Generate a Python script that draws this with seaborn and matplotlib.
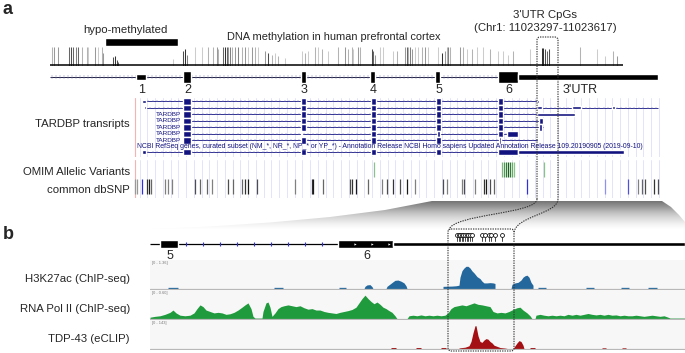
import numpy as np
import matplotlib
matplotlib.use("Agg")
import matplotlib.pyplot as plt
import seaborn as sns
from matplotlib.patches import FancyBboxPatch, PathPatch, Polygon
from matplotlib.path import Path
from matplotlib.ticker import MultipleLocator

# ===================== DATA =====================
# ---- panel a : DNA methylation (CpG position, methylation level, coverage shade)
meth_pos = [52, 54, 58, 69, 71, 73, 76, 78, 82, 87, 88, 95, 98, 102, 103, 113, 115, 117, 118,
            173, 183, 185, 187, 195, 202, 208, 213, 217, 218, 223, 225, 227, 228, 230, 232, 235,
            238, 242, 245, 248, 252, 255, 258, 265, 268, 272, 275, 278, 285, 302, 305, 308, 315,
            318, 322, 328, 338, 345, 348, 352, 353, 358, 360, 372, 373, 375, 380, 383, 393, 397,
            405, 407, 408, 410, 412, 415, 418, 422, 425, 428, 438, 442, 445, 447, 448, 450, 460,
            463, 467, 472, 477, 483, 490, 498, 503, 508, 513, 530, 542, 543, 545, 547, 549, 580,
            597, 605, 613, 617]
meth_level = [1, 1, 1, 1, 1, 1, 1, 1, 1, 1, 1, 1, 1, 1, 0.7, 0.45, 0.5, 0.3, 0.2,
              0.35, 0.8, 0.9, 0.6, 1, 1, 1, 1, 1, 0.9, 1, 1, 1, 1, 1, 1, 1,
              1, 1, 1, 1, 1, 1, 1, 0.8, 0.7, 0.6, 0.7, 0.5, 0.4, 0.8, 0.7, 0.8, 1,
              1, 0.9, 0.8, 1, 1, 0.9, 1, 0.9, 1, 1, 0.9, 0.8, 0.6, 1, 1, 0.8, 0.8,
              1, 1, 1, 1, 0.9, 1, 1, 1, 1, 1, 1, 0.7, 0.8, 1, 1, 1, 1,
              1, 0.9, 0.9, 1, 1, 0.9, 0.8, 0.8, 0.6, 0.8, 0.9, 0.95, 0.95, 0.9, 0.8, 0.9, 1,
              0.9, 0.5, 0.8, 0.5]
meth_shade = [0.6, 0.5, 0.5, 0.3, 0.2, 0.3, 0.4, 0.3, 0.6, 0.6, 0.7, 0.5, 0.7, 0.6, 0.5, 0.2, 0.1, 0.2, 0.3,
              0.7, 0.2, 0.1, 0.4, 0.7, 0.7, 0.6, 0.6, 0.5, 0.6, 0.3, 0.1, 0.3, 0.5, 0.4, 0.6, 0.5,
              0.4, 0.6, 0.5, 0.7, 0.5, 0.6, 0.7, 0.5, 0.2, 0.6, 0.7, 0.6, 0.7, 0.7, 0.6, 0.7, 0.6,
              0.7, 0.6, 0.7, 0.6, 0.5, 0.6, 0.6, 0.7, 0.5, 0.6, 0.2, 0.3, 0.5, 0.7, 0.7, 0.7, 0.6,
              0.5, 0.3, 0.6, 0.4, 0.5, 0.7, 0.7, 0.6, 0.5, 0.7, 0.7, 0.1, 0.5, 0.6, 0.4, 0.6, 0.5,
              0.6, 0.7, 0.6, 0.7, 0.7, 0.6, 0.7, 0.7, 0.7, 0.6, 0.7, 0.1, 0.1, 0.2, 0.3, 0.2, 0.6,
              0.7, 0.7, 0.6, 0.5]
meth_span = (50, 623)
hypo_region = (105, 178)
cpg_box = (537, 558)

# ---- panel a : gene model
gene_span = (50, 658)
exon_start = [136, 183, 301, 370, 435, 498]
exon_end = [146, 191, 306, 375, 440, 518]
exon_coding = [False, True, True, True, True, True]
exon_labels = ["1", "2", "3", "4", "5", "6"]
utr_region = (518, 658)

# ---- panel a : RefSeq transcripts (row, span, blocks (start, end, coding?))
tx_rows = [0, 1, 2, 3, 4, 5, 6, 7.8]
tx_spans = [(142, 539), (144, 658), (183, 575), (183, 543), (183, 543), (183, 518), (183, 539), (142, 624)]
tx_blocks = [
    [(142, 146, 0), (183, 191, 1), (301, 306, 1), (371, 376, 1), (436, 441, 1), (498, 503, 1), (537, 539, 0)],
    [(144, 146, 0), (183, 191, 1), (301, 306, 1), (371, 376, 1), (436, 441, 1), (498, 503, 1), (537, 542, 0),
     (572, 581, 0), (612, 615, 0)],
    [(183, 191, 1), (301, 306, 1), (371, 376, 1), (436, 441, 1), (498, 503, 1), (537, 575, 0)],
    [(183, 191, 1), (301, 306, 1), (371, 376, 1), (436, 441, 1), (498, 503, 1), (539, 543, 1)],
    [(183, 191, 1), (301, 306, 1), (371, 376, 1), (436, 441, 1), (498, 503, 1), (539, 542, 1)],
    [(183, 191, 1), (301, 302, 1), (371, 376, 1), (437, 440, 1), (498, 503, 1), (507, 518, 1)],
    [(183, 191, 1), (301, 306, 1), (371, 376, 1), (436, 441, 1), (499, 501, 1), (538, 539, 0)],
    [(142, 146, 0), (183, 191, 1), (301, 306, 1), (371, 376, 1), (436, 441, 1), (498, 518, 1), (518, 624, 0)],
]
tx_named_rows = [2, 3, 4, 5, 6]
tx_name = "TARDBP"
refseq_note = ("NCBI RefSeq genes, curated subset (NM_*, NR_*, NP_* or YP_*) - Annotation Release "
               "NCBI Homo sapiens Updated Annotation Release 109.20190905 (2019-09-10)")

# ---- panel a : variants
omim_pos = [374, 502, 504, 506, 508, 510, 512, 514, 544]
omim_color = ["#8cc08c", "#7cb87c", "#4e9a52", "#2e7d32", "#1b5e20", "#2e7d32", "#6aa86a", "#8cc08c", "#8cc08c"]
snp_pos = [135, 137, 147, 149, 151, 165, 168, 172, 195, 200, 207, 212, 228, 233, 242, 245, 248, 257,
           295, 312, 313, 323, 350, 352, 356, 368, 382, 387, 393, 400, 407, 415, 443, 447, 462, 464,
           475, 484, 486, 490, 494, 638, 642, 645, 654, 658]
snp_shade = [0.6, 0.6, 0.2, 0.1, 0.4, 0.5, 0.5, 0.5, 0.3, 0.4, 0.4, 0.5, 0.3, 0.4, 0.4, 0.2, 0.1, 0.3,
             0.5, 0.2, 0.1, 0.4, 0.3, 0.2, 0.1, 0.4, 0.5, 0.3, 0.2, 0.3, 0.1, 0.5, 0.3, 0.5, 0.5, 0.3,
             0.5, 0.2, 0.1, 0.3, 0.4, 0.5, 0.4, 0.3, 0.2, 0.3]
snp_blue_pos = [142, 527, 605, 628]
snp_blue_color = ["#3030e0", "#3030e0", "#9090f0", "#5050e0"]

# ---- panel b : zoomed gene model
b_span = (150, 685)
b_exon_start = [160, 338]
b_exon_end = [178, 393]
b_exon_labels = ["5", "6"]
b_utr = (393, 685)
b_cpg_pos = [457, 458.5, 460, 461.5, 463, 465, 466.5, 468, 470, 472, 482, 485, 489, 491, 495, 502]
b_window = (448, 514)

# ---- panel b : signal tracks (normalised to each track's data range)
h3_x = [150, 168, 168, 178, 178, 274, 274, 283, 283, 339, 339, 346, 346, 364, 365, 367, 370, 372, 373,
        386, 387, 390, 393, 395, 398, 401, 404, 406, 407, 443, 443, 452, 456, 459, 460, 462, 464, 466,
        468, 470, 472, 474, 477, 480, 482, 484, 487, 490, 493, 495, 495, 511, 512, 515, 518, 521, 523,
        525, 527, 529, 531, 533, 533, 538, 538, 546, 546, 586, 586, 594, 594, 621, 621, 629, 629,
        648, 648, 657, 657, 685]
h3_y = [0, 0, .045, .045, 0, 0, .045, .045, 0, 0, .045, .045, 0, 0, .08, .13, .14, .07, 0,
        0, .08, .16, .24, .29, .3, .26, .2, .1, 0, 0, .08, .09, .1, .12, .4, .63, .72, .78,
        .78, .72, .62, .55, .42, .35, .26, .2, .2, .21, .2, .18, 0, 0, .15, .2, .22, .3, .4,
        .45, .47, .4, .22, .12, 0, 0, .045, .045, 0, 0, .045, .045, 0, 0, .045, .045, 0,
        0, .045, .045, 0, 0]
pol_x = [150, 155, 160, 165, 170, 173, 176, 180, 185, 190, 194, 197, 200, 203, 206, 210, 214, 218,
         222, 226, 230, 234, 238, 242, 245, 248, 251, 253, 255, 262, 263, 266, 268, 270, 272, 275,
         278, 281, 284, 288, 292, 296, 300, 304, 308, 312, 316, 320, 324, 328, 332, 336, 340, 344,
         348, 352, 356, 359, 362, 365, 368, 371, 374, 377, 380, 383, 386, 389, 392, 395, 397, 407,
         409, 413, 417, 421, 425, 429, 433, 437, 441, 445, 448, 451, 454, 458, 462, 466, 470, 474,
         478, 482, 486, 490, 493, 497, 501, 505, 509, 513, 517, 520, 523, 527, 530, 532, 535, 536,
         540, 544, 548, 552, 556, 560, 564, 568, 572, 576, 580, 584, 588, 592, 596, 600, 604, 608,
         612, 616, 620, 624, 628, 632, 636, 640, 644, 648, 652, 656, 660, 664, 668, 670, 685]
pol_y = [.05, .08, .1, .15, .22, .3, .2, .12, .1, .12, .2, .35, .48, .42, .3, .25, .2, .22,
         .2, .15, .17, .22, .3, .4, .48, .55, .35, .08, .02, .02, .25, .55, .58, .4, .08, .2,
         .35, .42, .45, .48, .45, .42, .45, .38, .33, .35, .3, .3, .25, .22, .2, .18, .22, .25,
         .28, .32, .4, .55, .7, .82, .7, .6, .52, .58, .5, .4, .35, .28, .22, .1, 0, 0,
         .1, .12, .1, .13, .1, .12, .1, .12, .1, .12, .2, .35, .42, .45, .48, .45, .5, .55,
         .5, .48, .45, .42, .25, .2, .22, .2, .25, .32, .38, .4, .3, .2, .1, 0, 0, .12,
         .15, .12, .1, .12, .1, .12, .1, .15, .12, .15, .12, .15, .18, .15, .13, .15, .12, .15,
         .12, .13, .1, .12, .1, .1, .12, .1, .08, .1, .12, .1, .08, .1, .05, .02, .02]
tdp_x = [150, 391, 391, 396, 396, 416, 416, 421, 421, 441, 441, 446, 446, 458, 460, 465, 469, 471,
         473, 475, 476, 478, 480, 482, 484, 486, 488, 490, 492, 494, 497, 500, 505, 508, 513, 515,
         517, 519, 521, 523, 524, 530, 530, 535, 535, 602, 602, 606, 606, 622, 622, 626, 626, 685]
tdp_y = [0, 0, .04, .04, 0, 0, .04, .04, 0, 0, .04, .04, 0, 0, .03, .05, .1, .25,
         .55, .8, .8, .45, .25, .22, .3, .35, .33, .25, .2, .12, .08, .04, .02, 0, 0, .1,
         .2, .28, .25, .12, 0, 0, .04, .04, 0, 0, .03, .03, 0, 0, .03, .03, 0, 0]
track_names = ["H3K27ac (ChIP-seq)", "RNA Pol II (ChIP-seq)", "TDP-43 (eCLIP)"]
track_ranges = ["[0 - 1.36]", "[0 - 0.60]", "[0 - 143]"]

# ===================== STYLE / LAYOUT =====================
sns.set_theme(style="white")
plt.rcParams["font.family"] = ["Liberation Sans", "DejaVu Sans"]

NAVY = "#13137f"
GRID = "#dedefa"
track_colors = ["#23679c", "#1f9a3c", "#a30f12"]
W, H = 685, 353
fig = plt.figure(figsize=(W / 100, H / 100), dpi=100)


def track_ax(x0, y0, x1, y1, ylim, grid=False, face=None):
    ax = fig.add_axes([x0 / W, 1 - y1 / H, (x1 - x0) / W, (y1 - y0) / H])
    ax.set_xlim(x0, x1)
    ax.set_ylim(*ylim)
    for s in ax.spines.values():
        s.set_visible(False)
    ax.set_yticks([])
    if grid:
        ax.xaxis.set_major_locator(MultipleLocator(7.75))
        ax.grid(axis="x", color=GRID, lw=0.6)
        ax.set_axisbelow(True)
    else:
        ax.set_xticks([])
    ax.tick_params(length=0, labelbottom=False, labelleft=False)
    if face is None:
        ax.patch.set_alpha(0)
    else:
        ax.set_facecolor(face)
    return ax


# overlay in pixel units for labels / connectors
ov = fig.add_axes([0, 0, 1, 1])
ov.axis("off")
ov.set_zorder(5)
ov.patch.set_alpha(0)

TXT = 8.2
NUM = 9
# ---------------- panel a ----------------
ov.text(3, 1, "a", fontsize=13, fontweight="bold", va="top", ha="left")
ov.text(125, 30, "hypo-methylated", fontsize=TXT, ha="center", va="center")
ov.text(334, 37, "DNA methylation in human prefrontal cortex", fontsize=TXT - 0.3, ha="center", va="center")
ov.text(545, 15, "3'UTR CpGs", fontsize=TXT, ha="center", va="center")
ov.text(545, 28, "(Chr1: 11023297-11023617)", fontsize=TXT, ha="center", va="center")
ov.broken_barh([(hypo_region[0], hypo_region[1] - hypo_region[0])], (38, 7.5), facecolors="black")

# methylation track
am = track_ax(0, 46, W, 65.5, (0, 1.08))
am.vlines(meth_pos, 0, meth_level, colors=[str(min(s + 0.1, 0.85)) for s in meth_shade], lw=0.75)
am.hlines(0.02, meth_span[0], meth_span[1], color="black", lw=1.1)

# gene model
ag = track_ax(0, 70, W, 84, (-1, 1))
ag.hlines(0, gene_span[0], gene_span[1], color="#222244", lw=0.7, zorder=1)
ticks = np.arange(gene_span[0] + 2, gene_span[1], 4.0)
ag.plot(ticks, np.zeros_like(ticks), ls="none", marker="|", ms=2.2, mew=0.35, color="#8080c8", zorder=1)
for s, e, c in zip(exon_start, exon_end, exon_coding):
    hh = 0.8 if c else 0.36
    ag.broken_barh([(s, e - s)], (-hh, 2 * hh), facecolors="black", zorder=3)
ag.broken_barh([(utr_region[0], utr_region[1] - utr_region[0])], (-0.43, 0.86), facecolors="black", zorder=3)
for s, e, lab in zip(exon_start, exon_end, exon_labels):
    ov.text((s + e) / 2 + 1, 90, lab, fontsize=NUM, ha="center", va="center")
ov.text(580, 90, "3'UTR", fontsize=NUM, ha="center", va="center")

# transcripts
at = track_ax(134, 98, 662, 156.5, (8.5, -0.5), grid=True)
at.axvline(134.6, color="#f4b4b4", lw=0.8)
for row, (s, e), blocks in zip(tx_rows, tx_spans, tx_blocks):
    at.hlines(row, s, e, color=NAVY, lw=0.6, zorder=1)
    tk = np.arange(s + 2, e, 4.4)
    at.plot(tk, np.full_like(tk, row), ls="none", marker="|", ms=2.0, mew=0.35, color="#7070c4", zorder=1)
    for bs, be, coding in blocks:
        hh = 0.5 if coding else 0.24
        at.broken_barh([(bs, max(be - bs, 1))], (row - hh, 2 * hh), facecolors=NAVY, zorder=3)
for r in tx_named_rows:
    at.text(181.5, r, tx_name, fontsize=4.6, color=NAVY, ha="right", va="center")
note = at.text(137, 7.0, refseq_note, fontsize=5, color=NAVY, ha="left", va="center")
fig.canvas.draw()
bb = note.get_window_extent()
note.set_fontsize(5 * 516 / bb.width)

ov.text(130, 124, "TARDBP transripts", fontsize=TXT, ha="right", va="center")

# variants
av = track_ax(134, 160, 662, 198, (0, 2), grid=True)
av.axvline(134.6, color="#f4b4b4", lw=0.8)
av.vlines(omim_pos, 1.1, 1.88, colors=omim_color, lw=0.9)
av.vlines(snp_pos, 0.2, 0.98, colors=[str(s) for s in snp_shade], lw=0.9)
av.vlines(snp_blue_pos, 0.2, 0.98, colors=snp_blue_color, lw=0.9)
ov.text(130, 172, "OMIM Allelic Variants", fontsize=TXT, ha="right", va="center")
ov.text(130, 190, "common dbSNP", fontsize=TXT, ha="right", va="center")

# ---------------- zoom fan ----------------
fan_pts = [(432, 201), (662, 201), (671, 207), (679, 215), (685, 222), (685, 229), (150, 229),
           (210, 226.5), (270, 222.5), (330, 217), (385, 210)]
fan = Polygon(fan_pts, closed=True, facecolor="none", edgecolor="none")
ov.add_patch(fan)
grad = np.linspace(0.62, 0.0, 80)[:, None] * np.ones((1, 2))
im = ov.imshow(grad, cmap="Greys", vmin=0, vmax=1, extent=(150, 685, 229, 201),
               aspect="auto", interpolation="bilinear", zorder=1)
im.set_clip_path(fan)
ov.set_xlim(0, W)
ov.set_ylim(H, 0)

# dashed connectors
dash = dict(fill=False, lw=0.8, ec="#333333", ls=(0, (1.2, 1.0)), zorder=6)
x0, x1 = cpg_box
box_path = Path([(x0, 199), (x0, 40), (x0, 37), (x0 + 3, 37), (x1 - 3, 37), (x1, 37), (x1, 40), (x1, 199)],
                [Path.MOVETO, Path.LINETO, Path.CURVE3, Path.CURVE3, Path.LINETO, Path.CURVE3, Path.CURVE3,
                 Path.LINETO])
ov.add_patch(PathPatch(box_path, **dash))
bx0, bx1 = b_window
lc = Path([(x0, 199), (x0, 214), (bx0 + 4, 214), (bx0 + 1, 230)],
          [Path.MOVETO, Path.CURVE4, Path.CURVE4, Path.CURVE4])
rc = Path([(x1, 199), (x1, 214), (bx1 + 1, 216), (bx1, 233)],
          [Path.MOVETO, Path.CURVE4, Path.CURVE4, Path.CURVE4])
ov.add_patch(PathPatch(lc, **dash))
ov.add_patch(PathPatch(rc, **dash))
ov.add_patch(FancyBboxPatch((bx0, 229), bx1 - bx0, 122, boxstyle="round,pad=0,rounding_size=3", **dash))

# ---------------- panel b ----------------
ov.text(3, 226, "b", fontsize=13, fontweight="bold", va="top", ha="left")
gb = track_ax(150, 232, 685, 256, (-1, 1))
gb.hlines(0, b_span[0], b_span[1], color="black", lw=0.9, zorder=1)
for s, e in zip(b_exon_start, b_exon_end):
    gb.broken_barh([(s, e - s)], (-0.34, 0.68), facecolors="black", zorder=3)
gb.broken_barh([(b_utr[0], b_utr[1] - b_utr[0])], (-0.17, 0.34), facecolors="black", zorder=3)
arr = np.arange(186, 330, 17.0)
gb.plot(arr, np.zeros_like(arr), ls="none", marker="|", ms=3, mew=0.8, color="#3030d0", zorder=2)
arr2 = np.arange(355, 392, 17.0)
gb.plot(arr2, np.zeros_like(arr2), ls="none", marker=">", ms=1.6, mew=0, color="white", zorder=4)
gb.vlines(b_cpg_pos, 0.2, 0.6, color="black", lw=0.5)
gb.plot(b_cpg_pos, np.full(len(b_cpg_pos), 0.72), ls="none", marker="o", ms=2.8, mfc="white",
        mec="black", mew=0.55)
for s, e, lab in zip(b_exon_start, b_exon_end, b_exon_labels):
    ov.text((s + e) / 2 + 1, 256, lab, fontsize=NUM, ha="center", va="center")

tracks = [(h3_x, h3_y), (pol_x, pol_y), (tdp_x, tdp_y)]
tops = [260, 290, 320]
for (tx, ty), top, col, name, rng in zip(tracks, tops, track_colors, track_names, track_ranges):
    ax = track_ax(150, top, 685, top + 29.5, (-0.03, 1.0), face="#f7f7f7")
    ax.fill_between(tx, 0, ty, color=col, lw=0)
    ax.axhline(-0.015, color="#b8b8b8", lw=0.9)
    ax.text(0.004, 0.95, rng, transform=ax.transAxes, fontsize=2.8, color="#777777", va="top", ha="left")
    ov.text(130, top + 18.5, name, fontsize=TXT, ha="right", va="center")

fig.savefig("out.png", dpi=100)
